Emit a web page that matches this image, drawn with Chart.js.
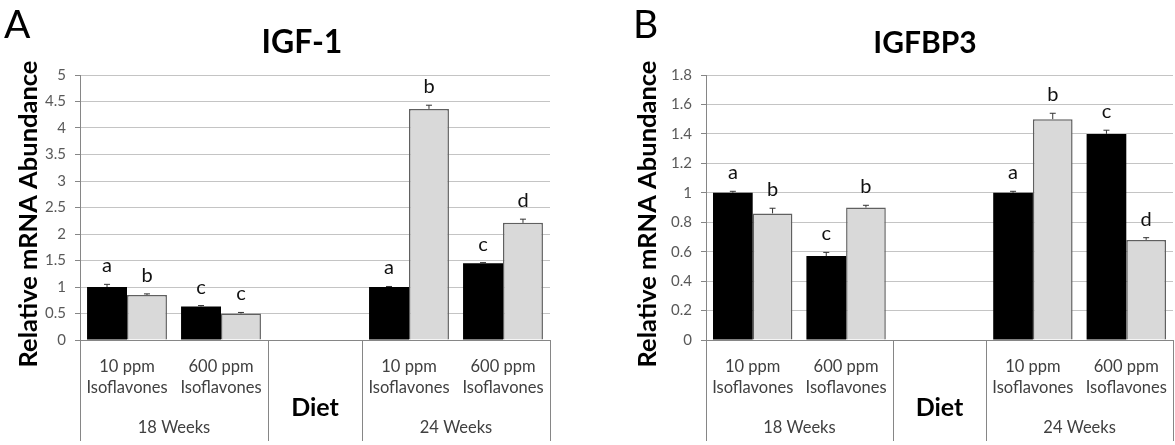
<!DOCTYPE html>
<html>
<head>
<meta charset="utf-8">
<script src="https://cdn.jsdelivr.net/npm/chart.js@4.4.1/dist/chart.umd.min.js"></script>
<style>
  body { margin: 0; background: #fff; }
  #wrap { position: relative; width: 1175px; height: 445px; }
  .panel { position: absolute; top: 0; }
</style>
</head>
<body>
<div id="wrap">
  <div class="panel" style="left:0"><canvas id="chartA" width="590" height="445"></canvas></div>
  <div class="panel" style="left:590px"><canvas id="chartB" width="585" height="445"></canvas></div>
</div>
<script>
// x categories: 18 weeks (2 diets), gap for "Diet", 24 weeks (2 diets)
const categories = ['10 ppm', '600 ppm', '', '10 ppm', '600 ppm'];
const subLabels = ['Isoflavones', 'Isoflavones', '', 'Isoflavones', 'Isoflavones'];
const periods = ['18 Weeks', '24 Weeks'];

// IGF-1
const igfBlack = [1.0, 0.63, null, 1.0, 1.45];
const igfGray = [0.85, 0.50, null, 4.36, 2.21];
const igfBlackErr = [0.05, 0.02, null, 0.01, 0.01];
const igfGrayErr = [0.02, 0.02, null, 0.07, 0.07];
const igfBlackLetters = ['a', 'c', '', 'a', 'c'];
const igfGrayLetters = ['b', 'c', '', 'b', 'd'];
const igfTicks = { max: 5, step: 0.5 };

// IGFBP3
const bp3Black = [1.0, 0.57, null, 1.0, 1.40];
const bp3Gray = [0.86, 0.90, null, 1.50, 0.68];
const bp3BlackErr = [0.01, 0.025, null, 0.01, 0.025];
const bp3GrayErr = [0.035, 0.015, null, 0.04, 0.015];
const bp3BlackLetters = ['a', 'c', '', 'a', 'c'];
const bp3GrayLetters = ['b', 'b', '', 'b', 'd'];
const bp3Ticks = { max: 1.8, step: 0.2 };

const FONT = 'Lato, "Open Sans", sans-serif';

const decorPlugin = {
  id: 'decor',
  afterDatasetsDraw(chart, args, opts) {
    const c = chart.ctx;
    const y = chart.scales.y;

    // error bars + significance letters
    chart.data.datasets.forEach((ds, di) => {
      const meta = chart.getDatasetMeta(di);
      meta.data.forEach((bar, i) => {
        const v = ds.data[i];
        if (v == null) return;
        const top = y.getPixelForValue(v + ds.err[i]);
        c.save();
        c.strokeStyle = '#333';
        c.lineWidth = 1;
        c.beginPath();
        c.moveTo(bar.x, y.getPixelForValue(v));
        c.lineTo(bar.x, top);
        c.moveTo(bar.x - 3, top);
        c.lineTo(bar.x + 3, top);
        c.stroke();
        c.fillStyle = '#111';
        c.font = '20px ' + FONT;
        c.textAlign = 'center';
        c.textBaseline = 'alphabetic';
        c.fillText(ds.letters[i], bar.x, top - 12);
        c.restore();
      });
    });
  },
  afterDraw(chart, args, opts) {
    const c = chart.ctx;
    const x = chart.scales.x;
    const area = chart.chartArea;
    const half = (x.getPixelForValue(1) - x.getPixelForValue(0)) / 2;
    const bottom = chart.height - 4;

    c.save();
    // x-axis table lines
    c.strokeStyle = '#868686';
    c.lineWidth = 1;
    [x.getPixelForValue(0) - half, x.getPixelForValue(1) + half,
     x.getPixelForValue(3) - half, x.getPixelForValue(4) + half].forEach(px => {
      c.beginPath();
      c.moveTo(Math.round(px) + 0.5, area.bottom);
      c.lineTo(Math.round(px) + 0.5, bottom);
      c.stroke();
    });

    // category labels
    c.fillStyle = '#404040';
    c.font = '16.5px ' + FONT;
    c.textAlign = 'center';
    c.textBaseline = 'middle';
    categories.forEach((lab, i) => {
      const px = x.getPixelForValue(i);
      c.fillText(lab, px, 367);
      c.fillText(subLabels[i], px, 388);
    });
    c.fillText(periods[0], (x.getPixelForValue(0) + x.getPixelForValue(1)) / 2, 428);
    c.fillText(periods[1], (x.getPixelForValue(3) + x.getPixelForValue(4)) / 2, 428);

    c.fillStyle = '#000';
    c.font = 'bold 25px ' + FONT;
    c.fillText('Diet', x.getPixelForValue(2), 408);

    // panel letter and title
    c.textBaseline = 'alphabetic';
    c.textAlign = 'left';
    c.font = '39px ' + FONT;
    c.fillText(opts.panel, opts.panelX, 38);
    c.textAlign = 'center';
    c.font = 'bold ' + opts.titleSize + 'px ' + FONT;
    c.fillText(opts.title, opts.titleX, 53);

    // y-axis title
    c.translate(opts.yTitleX, 214);
    c.rotate(-Math.PI / 2);
    c.textBaseline = 'middle';
    c.font = 'bold 25.5px ' + FONT;
    c.fillText('Relative mRNA Abundance', 0, 0);
    c.restore();
  }
};

function makeChart(id, black, gray, blackErr, grayErr, blackLetters, grayLetters, ticks, p) {
  return new Chart(document.getElementById(id), {
    type: 'bar',
    data: {
      labels: categories,
      datasets: [
        { data: black, err: blackErr, letters: blackLetters,
          backgroundColor: '#000', borderColor: '#000', borderWidth: 0 },
        { data: gray, err: grayErr, letters: grayLetters,
          backgroundColor: '#d9d9d9', borderColor: '#606060', borderWidth: 1.5 }
      ]
    },
    options: {
      responsive: false,
      animation: false,
      categoryPercentage: 0.85,
      barPercentage: 1.0,
      layout: { padding: { top: 75, right: p.rightPad, left: 0, bottom: 0 } },
      plugins: {
        legend: { display: false },
        tooltip: { enabled: false },
        decor: p
      },
      scales: {
        x: {
          ticks: { display: false },
          grid: { display: false },
          border: { color: '#868686' },
          afterFit: s => { s.height = 105; }
        },
        y: {
          min: 0,
          max: ticks.max,
          ticks: {
            stepSize: ticks.step,
            color: '#595959',
            font: { family: FONT, size: 15 },
            padding: 9,
            callback: v => String(Number(v.toFixed(1)))
          },
          grid: { color: '#c4c4c4', tickLength: 5, tickColor: '#868686' },
          border: { color: '#868686' },
          afterFit: s => { s.width = p.axisWidth; }
        }
      }
    },
    plugins: [decorPlugin]
  });
}

makeChart('chartA', igfBlack, igfGray, igfBlackErr, igfGrayErr, igfBlackLetters, igfGrayLetters, igfTicks,
  { panel: 'A', panelX: 4, title: 'IGF-1', titleX: 302, titleSize: 32, yTitleX: 29, axisWidth: 80, rightPad: 40 });
makeChart('chartB', bp3Black, bp3Gray, bp3BlackErr, bp3GrayErr, bp3BlackLetters, bp3GrayLetters, bp3Ticks,
  { panel: 'B', panelX: 43, title: 'IGFBP3', titleX: 335, titleSize: 30, yTitleX: 58, axisWidth: 116, rightPad: 2 });
</script>
</body>
</html>
